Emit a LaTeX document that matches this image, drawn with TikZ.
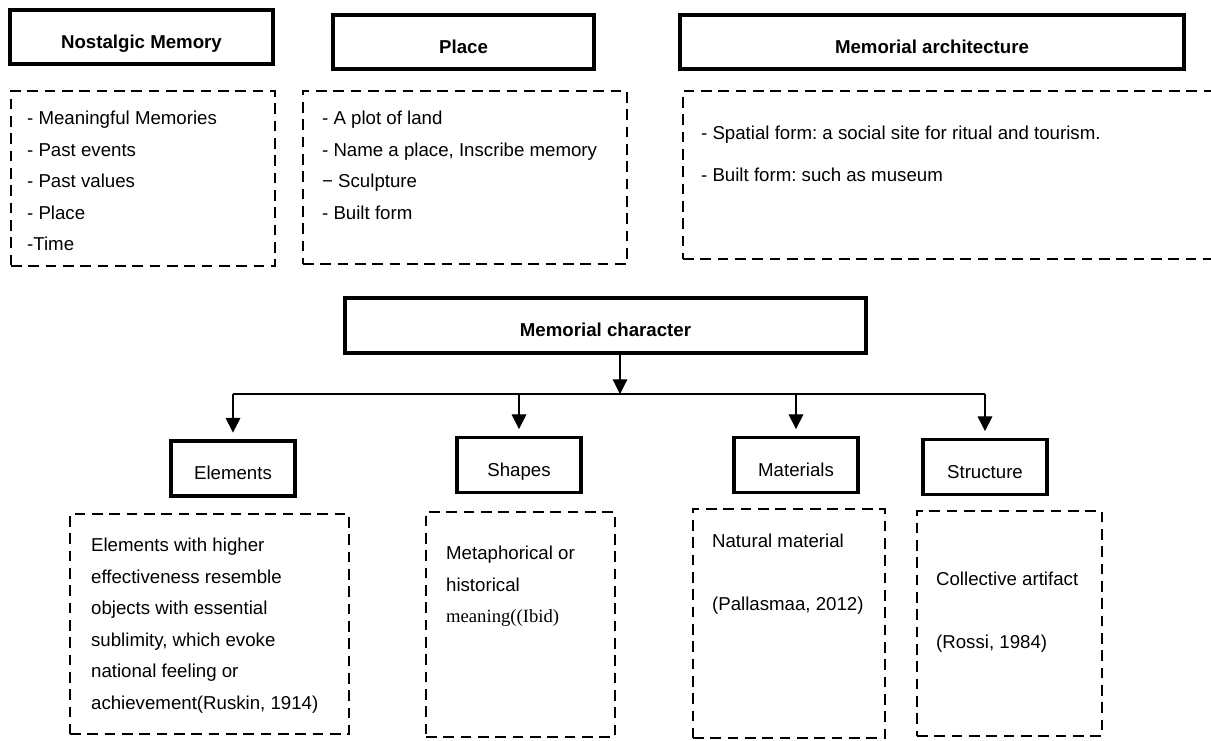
\documentclass[tikz,border=0pt]{standalone}
\usepackage{fontspec}
\setmainfont{Liberation Sans}
\newfontfamily\timesfont{Liberation Serif}
\usetikzlibrary{positioning,arrows.meta}
\frenchspacing

\begin{document}
\begin{tikzpicture}[x=0.75pt, y=-0.75pt,
			headbox/.style={draw, line width=2.8pt, inner sep=0pt, text height=17pt, text depth=0pt, font=\fontsize{14}{17}\selectfont\bfseries},
			subbox/.style={draw, line width=2.6pt, inner sep=0pt, minimum width=93pt, minimum height=41.25pt, text height=17pt, text depth=0pt, font=\fontsize{14}{17}\selectfont},
			notebox/.style={draw, dash pattern=on 8pt off 5pt, line width=1.7pt, inner sep=0pt},
			notetext/.style={inner sep=0pt, align=left, font=\fontsize{14}{23.6}\selectfont},
			link/.style={line width=0.8pt},
			arrow/.style={link, -{Triangle[width=11pt,length=11pt]}},
		]
		\useasboundingbox (0,0) rectangle (1211,740);

		% top row
		\node[headbox, minimum width=197.25pt, minimum height=40.5pt] (nm) at (141.5,37) {Nostalgic Memory};
		\node[headbox, minimum width=195.75pt, minimum height=40.5pt] (pl) at (463.5,42) {Place};
		\node[headbox, minimum width=378pt, minimum height=40.5pt]    (ma) at (932,42)   {Memorial architecture};

		\node[notebox, minimum width=198pt, minimum height=131.25pt]    (nmbox) at (143,178.5) {};
		\node[notebox, minimum width=243pt, minimum height=129.75pt]    (plbox) at (465,177.5) {};
		\node[notebox, minimum width=402.75pt, minimum height=126pt]    (mabox) at (951.5,175) {};

		\node[notetext] (nmtext) [below right=15.75pt and 12.75pt of nmbox.north west]
			{- Meaningful Memories\\- Past events\\- Past values\\- Place\\-Time};
		\node[notetext] (pltext) [below right=15.75pt and 15pt of plbox.north west]
			{- A plot of land\\- Name a place, Inscribe memory\\− Sculpture\\- Built form};
		\node[notetext] (matext) [below right=27pt and 14.25pt of mabox.north west]
			{- Spatial form: a social site for ritual and tourism.\\[8pt]- Built form: such as museum};

		% middle
		\node[headbox, minimum width=390.75pt, minimum height=41.25pt] (mc) at (605.5,325.5) {Memorial character};
		\coordinate (hub) at (620,394);

		% bottom row
		\node[subbox] (el) at (233,468.5) {Elements};
		\node[subbox] (sh) at (519,465)   {Shapes};
		\node[subbox] (mt) at (796,465)   {Materials};
		\node[subbox] (st) at (985,467)   {Structure};

		\node[notebox, minimum width=209.25pt, minimum height=165pt]    (elbox) at (209.5,624)   {};
		\node[notebox, minimum width=141.75pt, minimum height=168.75pt] (shbox) at (520.5,624.5) {};
		\node[notebox, minimum width=144pt, minimum height=171.75pt]    (mtbox) at (789,623.5)   {};
		\node[notebox, minimum width=138.75pt, minimum height=168.75pt] (stbox) at (1009.5,623.5) {};

		\node[notetext] (eltext) [below right=18.75pt and 16.5pt of elbox.north west]
			{Elements with higher\\effectiveness resemble\\objects with essential\\sublimity, which evoke\\national feeling or\\achievement(Ruskin, 1914)};
		\node[notetext] (shtext) [below right=26.25pt and 15.75pt of shbox.north west]
			{Metaphorical or\\historical\\{\timesfont meaning((Ibid)}};
		\node[notetext] (mttext) [below right=19.5pt and 15pt of mtbox.north west]
			{Natural material\\[23.6pt](Pallasmaa, 2012)};
		\node[notetext] (sttext) [below right=46.5pt and 15pt of stbox.north west]
			{Collective artifact\\[23.6pt](Rossi, 1984)};

		\draw[arrow] (mc.south -| hub) -- (hub);
		\draw[link] (el.north |- hub) -- (st.north |- hub);
		\foreach \n in {el,sh,mt,st}
			\draw[arrow, shorten >=5pt] (\n.north |- hub) -- (\n.north);

\end{tikzpicture}
\end{document}
